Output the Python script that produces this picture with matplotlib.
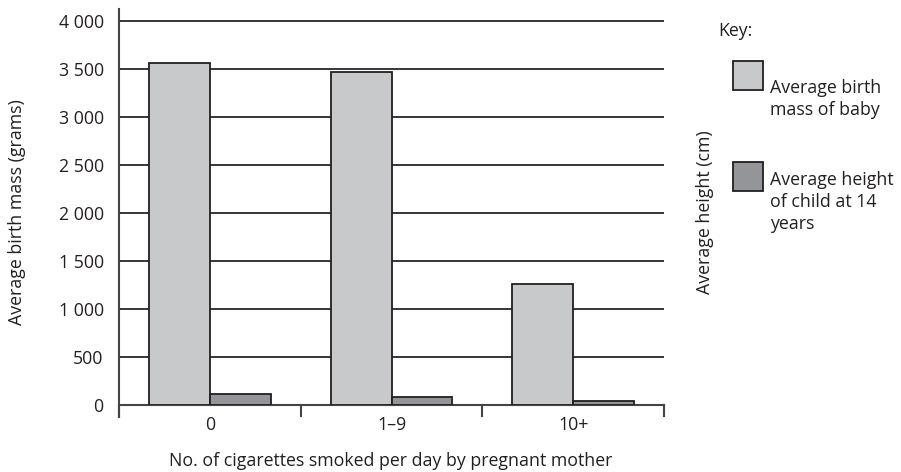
import matplotlib
matplotlib.use('Agg')
import matplotlib.pyplot as plt
from matplotlib.patches import Rectangle
import numpy as np

plt.rcParams['font.family'] = ['Open Sans', 'DejaVu Sans']

categories = ['0', '1\u20139', '10+']
birth_mass = [3560, 3470, 1260]      # grams
child_height = [115, 87, 45]         # drawn on same scale
yticks = [0, 500, 1000, 1500, 2000, 2500, 3000, 3500, 4000]
ytick_labels = ['0', '500', '1 000', '1 500', '2 000', '2 500', '3 000', '3 500', '4 000']

light = '#c8c9cb'
dark = '#939598'
edge = '#231f20'
text_col = '#231f20'
fs = 12.8

W, H = 901, 472
fig = plt.figure(figsize=(W / 100, H / 100), dpi=100)
ax = fig.add_axes([119 / W, 1 - 405 / H, (664 - 119) / W, (405 - 9) / H])

x = np.arange(len(categories))
bw = 0.335
ax.bar(x - bw / 2, birth_mass, bw, color=light, edgecolor=edge, linewidth=1.3, zorder=3)
ax.bar(x + bw / 2, child_height, bw, color=dark, edgecolor=edge, linewidth=1.3, zorder=3)

ax.set_xlim(-0.5, 2.5)
ax.set_ylim(0, 4125)
for v in yticks[1:]:
    ax.axhline(v, color='black', lw=1.1, zorder=1)

ax.set_yticks(yticks)
ax.set_yticklabels(ytick_labels, fontsize=fs, color=text_col)
ax.tick_params(axis='y', length=0, pad=11)

# category labels at centres, boundary ticks below
ax.set_xticks(x)
ax.set_xticklabels(categories, fontsize=fs, color=text_col)
ax.tick_params(axis='x', length=0, pad=8)
for b in [-0.5, 0.5, 1.5, 2.5]:
    ax.plot([b, b], [0, -0.027], transform=ax.get_xaxis_transform(),
            color='#444444', lw=1.5, clip_on=False, zorder=4)

for s in ['top', 'right']:
    ax.spines[s].set_visible(False)
ax.spines['left'].set_color('#444444')
ax.spines['left'].set_linewidth(1.5)
ax.spines['bottom'].set_color('#444444')
ax.spines['bottom'].set_linewidth(1.5)
ax.spines['left'].set_bounds(-120, 4125)

fig.text(391 / W, 1 - 461 / H, 'No. of cigarettes smoked per day by pregnant mother',
         ha='center', va='center', fontsize=fs, color=text_col)
fig.text(17 / W, 1 - 212 / H, 'Average birth mass (grams)', rotation=90,
         ha='center', va='center', fontsize=fs, color=text_col)
fig.text(705 / W, 1 - 212 / H, 'Average height (cm)', rotation=90,
         ha='center', va='center', fontsize=fs, color=text_col)

# key
fig.text(718 / W, 1 - 31 / H, 'Key:', fontsize=fs, color=text_col, va='center')
fig.patches.append(Rectangle((733 / W, 1 - 90 / H), 30 / W, 29 / H,
                             transform=fig.transFigure, facecolor=light,
                             edgecolor=edge, lw=1.3))
fig.text(770 / W, 1 - 99 / H, 'Average birth\nmass of baby', fontsize=fs,
         color=text_col, va='center', linespacing=1.3)
fig.patches.append(Rectangle((733 / W, 1 - 191 / H), 30 / W, 29 / H,
                             transform=fig.transFigure, facecolor=dark,
                             edgecolor=edge, lw=1.3))
fig.text(770 / W, 1 - 202 / H, 'Average height\nof child at 14\nyears', fontsize=fs,
         color=text_col, va='center', linespacing=1.3)

fig.savefig('out.png', dpi=100)
